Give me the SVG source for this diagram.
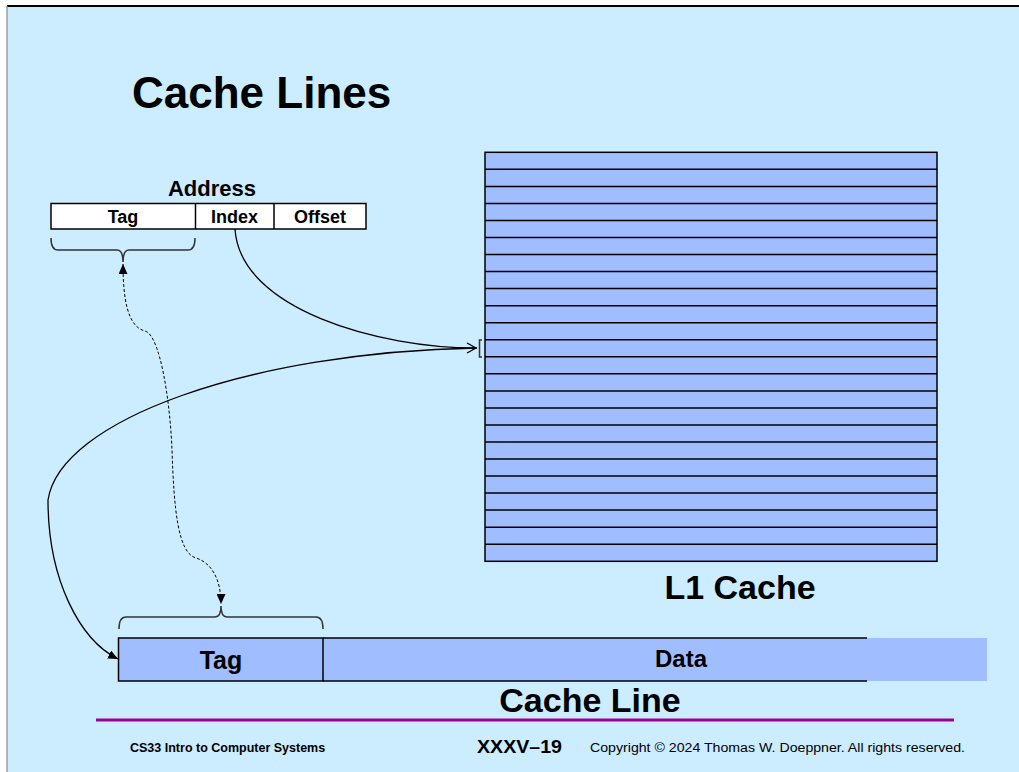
<svg xmlns="http://www.w3.org/2000/svg" width="1019" height="772" viewBox="0 0 1019 772">
<style>
text{font-family:"Liberation Sans",Arial,sans-serif;font-weight:bold;fill:#000}
.box{stroke:#000;stroke-width:1.5}
.cl{fill:#A0BDFF}
.wire{fill:none;stroke:#000;stroke-width:1.3}
.dash{fill:none;stroke:#000;stroke-width:1;stroke-dasharray:3,2}
.brace{fill:none;stroke:#333;stroke-width:1.5}
</style>
<defs>
<marker id="tri" markerUnits="userSpaceOnUse" markerWidth="10" markerHeight="9" refX="10" refY="4.5" orient="auto-start-reverse" viewBox="0 0 10 9">
<path d="M0,0 L10,4.5 L0,9 z" fill="#000"/>
</marker>
<marker id="open" markerUnits="userSpaceOnUse" markerWidth="12" markerHeight="14" refX="10" refY="6" orient="auto" viewBox="0 0 12 12">
<path d="M1,1 L10,6 L1,11" fill="none" stroke="#000" stroke-width="1.3"/>
</marker>
</defs>
<rect x="0" y="0" width="1019" height="772" fill="#fff"/>
<rect x="7" y="6" width="1012" height="766" fill="#CCECFF"/>
<line x1="7" y1="6" x2="1019" y2="6" stroke="#000" stroke-width="2"/>
<line x1="7" y1="6" x2="7" y2="772" stroke="#777" stroke-width="1"/>
<text x="132" y="108" font-size="44">Cache Lines</text>
<g id="address">
<text x="212" y="196" font-size="22" text-anchor="middle">Address</text>
<rect x="51" y="203.5" width="315" height="25.5" fill="#fff" class="box"/>
<line x1="195.5" y1="203.5" x2="195.5" y2="229" class="box"/>
<line x1="274" y1="203.5" x2="274" y2="229" class="box"/>
<text x="123" y="223" font-size="18" text-anchor="middle">Tag</text>
<text x="234.5" y="223" font-size="18" text-anchor="middle">Index</text>
<text x="320" y="223" font-size="18" text-anchor="middle">Offset</text>
<path class="brace" d="M51,238 Q51,250 58,250 L117,250 Q123,250 123,262 Q123,250 129,250 L188,250 Q195,250 195,238"/>
</g>
<g id="l1cache">
<rect x="485" y="152.3" width="452" height="409" class="cl box"/>
<path stroke="#000" stroke-width="1.5" d="M485,169.3H937M485,186.4H937M485,203.4H937M485,220.5H937M485,237.5H937M485,254.5H937M485,271.6H937M485,288.6H937M485,305.7H937M485,322.7H937M485,339.7H937M485,356.8H937M485,373.8H937M485,390.9H937M485,407.9H937M485,424.9H937M485,442H937M485,459H937M485,476.1H937M485,493.1H937M485,510.1H937M485,527.2H937M485,544.2H937"/>
<text x="740" y="599" font-size="34" text-anchor="middle">L1 Cache</text>
</g>
<g id="cacheline">
<rect x="867" y="638" width="120" height="43" class="cl"/>
<rect x="323" y="638" width="544" height="43" class="cl"/>
<line x1="323" y1="638" x2="867" y2="638" class="box"/>
<line x1="323" y1="681" x2="867" y2="681" class="box"/>
<rect x="118.5" y="638" width="204.5" height="43" class="cl box"/>
<text x="221" y="669" font-size="25" text-anchor="middle">Tag</text>
<text x="681" y="667" font-size="24" text-anchor="middle">Data</text>
<path class="brace" d="M119,629 Q119,617 126,617 L215,617 Q221,617 221,606 Q221,617 227,617 L316,617 Q323,617 323,629"/>
<text x="590" y="712" font-size="34" text-anchor="middle">Cache Line</text>
</g>
<g id="connectors">
<path class="wire" d="M235,229 C240,310 380,348 476,348" marker-end="url(#open)"/>
<path class="brace" stroke="#000" d="M482,340 L479.5,340 L479.5,357 L482,357"/>
<path class="wire" d="M477,348 C250,352 60,420 48,500 C48,580 80,640 118,659" marker-end="url(#tri)"/>
<path class="dash" d="M123,264 C123,300 128,327 145,331 C160,335 170,400 172,450 C174,510 178,553 196,558 C212,563 221,580 221,604" marker-start="url(#tri)" marker-end="url(#tri)"/>
</g>
<g id="footer">
<line x1="96" y1="720" x2="954" y2="720" stroke="#990099" stroke-width="3"/>
<text x="130" y="752" font-size="12.5">CS33 Intro to Computer Systems</text>
<text x="477" y="753" font-size="18" textLength="85" lengthAdjust="spacingAndGlyphs">XXXV–19</text>
<text x="590" y="752" font-size="12.5" style="font-weight:normal" textLength="375" lengthAdjust="spacingAndGlyphs">Copyright © 2024 Thomas W. Doeppner. All rights reserved.</text>
</g>
</svg>
